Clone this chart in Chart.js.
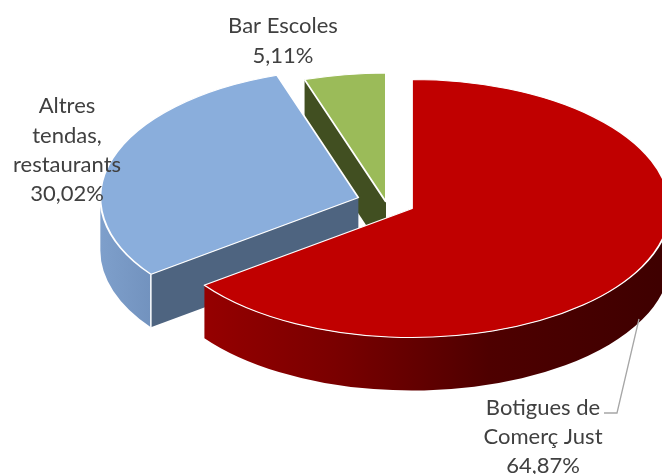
<!DOCTYPE html>
<html>
<head>
<meta charset="utf-8">
<script src="https://cdn.jsdelivr.net/npm/chart.js@4"></script>
<style>
html,body{margin:0;padding:0;background:#fff;overflow:hidden}
#wrap{width:662px;height:474px}
</style>
</head>
<body>
<div id="wrap"><canvas id="c" width="662" height="474"></canvas></div>
<script>
const categories = [["Botigues de","Comerç Just"],["Altres","tendas,","restaurants"],["Bar Escoles"]];
const shares = [64.87, 30.02, 5.11];
const topColors = ["#C00000","#8AAEDC","#9BBB59"];
const explode = [29, 29, 0];

const RADIUS = 258, SQUASH = 0.5, DEPTH = 106;      // DEPTH in unsquashed units
const CENTER = {x:386, y:202};
const drawOrder = [2,1,0];
const labelSpots = [
  {x:543, y:[408,437,466]},
  {x:67,  y:[106,136,165,194]},
  {x:283, y:[26,56]}
];

function outerWall(ctx,p,r,a0,a1,fill){
  ctx.beginPath();
  ctx.arc(p.x,p.y,r,a0,a1,false);
  ctx.arc(p.x,p.y+DEPTH,r,a1,a0,true);
  ctx.closePath();
  ctx.fillStyle=fill; ctx.fill();
}
function cutFace(ctx,p,r,a,fill){
  const ex=p.x+Math.cos(a)*r, ey=p.y+Math.sin(a)*r;
  ctx.beginPath();
  ctx.moveTo(p.x,p.y); ctx.lineTo(ex,ey); ctx.lineTo(ex,ey+DEPTH); ctx.lineTo(p.x,p.y+DEPTH);
  ctx.closePath();
  ctx.fillStyle=fill; ctx.fill();
}
function grad(ctx,x0,x1,stops){
  const g=ctx.createLinearGradient(x0,0,x1,0);
  stops.forEach(s=>g.addColorStop(s[0],s[1]));
  return g;
}
function drawWalls(ctx,i,arc){
  const p={x:arc.x,y:arc.y}, r=arc.outerRadius;
  if(i===2){ // green: left cut
    cutFace(ctx,p,r,arc.startAngle,"#414F21");
  } else if(i===1){ // blue
    cutFace(ctx,p,r,arc.startAngle,"#4E6480");
    outerWall(ctx,p,r,arc.startAngle,Math.PI,grad(ctx,p.x-r,p.x-r+60,[[0,"#7E9FCB"],[1,"#7090BC"]]));
    const ex=p.x+Math.cos(arc.startAngle)*r, ey=p.y+Math.sin(arc.startAngle)*r;
    ctx.beginPath(); ctx.moveTo(ex,ey); ctx.lineTo(ex,ey+DEPTH);
    ctx.strokeStyle="#fff"; ctx.lineWidth=1.5; ctx.stroke();
  } else { // red
    outerWall(ctx,p,r,0,arc.endAngle,grad(ctx,p.x-r,p.x+r,[[0,"#A00000"],[0.35,"#7A0000"],[0.65,"#4E0000"],[1,"#3E0000"]]));
  }
}
const pie3d = {
  id:"pie3d",
  beforeDatasetDraw(chart,args){
    const ctx=chart.ctx, a=chart.chartArea;
    const ax=(a.left+a.right)/2, ay=(a.top+a.bottom)/2;
    const arcs=args.meta.data;
    ctx.save();
    ctx.translate(CENTER.x,CENTER.y);
    ctx.scale(1,SQUASH);
    ctx.translate(-ax,-ay);
    drawOrder.forEach(i=>{
      const arc=arcs[i], mid=(arc.startAngle+arc.endAngle)/2;
      ctx.save();
      ctx.translate(Math.cos(mid)*explode[i],Math.sin(mid)*explode[i]);
      drawWalls(ctx,i,arc);
      arc.draw(ctx);
      ctx.restore();
    });
    ctx.restore();
    return false;
  },
  afterDraw(chart){
    const ctx=chart.ctx;
    ctx.save();
    ctx.strokeStyle="#A6A6A6"; ctx.lineWidth=1.3;
    ctx.beginPath(); ctx.moveTo(639,319); ctx.lineTo(617,413); ctx.lineTo(604,413); ctx.stroke();
    ctx.fillStyle="#404040";
    ctx.font='22px Lato, "Open Sans", sans-serif';
    ctx.textAlign="center"; ctx.textBaseline="middle";
    categories.forEach((lines,i)=>{
      const txt=lines.concat([shares[i].toFixed(2).replace(".",",")+"%"]);
      txt.forEach((t,k)=>ctx.fillText(t,labelSpots[i].x,labelSpots[i].y[k]));
    });
    ctx.restore();
  }
};
new Chart(document.getElementById("c"),{
  type:"pie",
  data:{
    labels:categories.map(l=>l.join(" ")),
    datasets:[{data:shares,backgroundColor:topColors,borderColor:"#fff",borderWidth:2,clip:false}]
  },
  options:{
    responsive:false,animation:false,events:[],radius:RADIUS,
    plugins:{legend:{display:false},tooltip:{enabled:false}}
  },
  plugins:[pie3d]
});
</script>
</body>
</html>
